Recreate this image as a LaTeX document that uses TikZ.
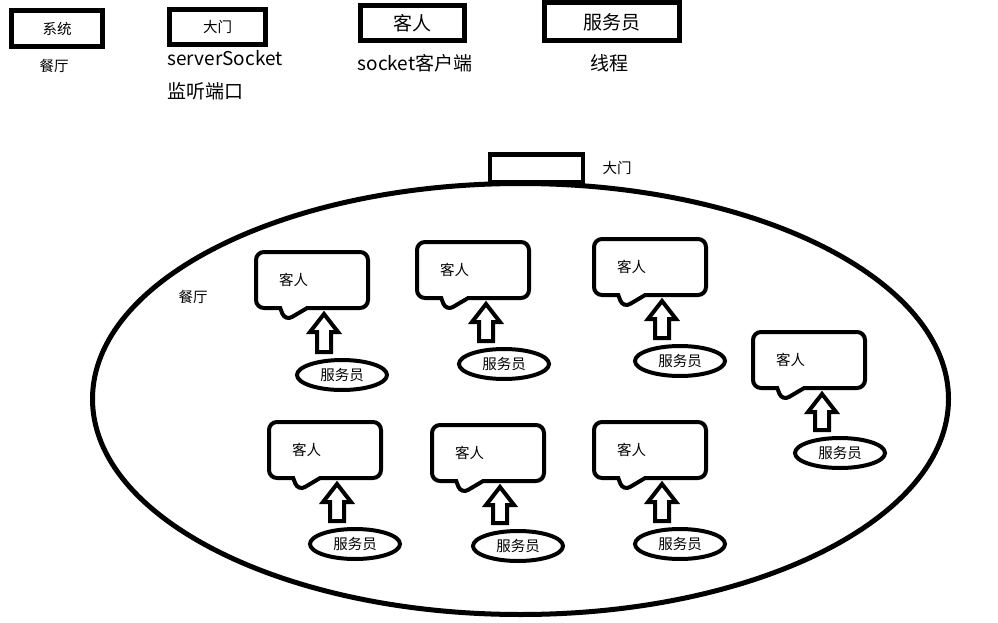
\documentclass[tikz,border=0pt]{standalone}
\usepackage{fontspec}
\setmainfont{Noto Sans CJK SC}
\usetikzlibrary{shapes.geometric,shapes.callouts,calc}

\tikzset{
  small/.style={font=\fontsize{14.5}{17}\selectfont},
  big/.style={font=\fontsize{19}{23}\selectfont},
  keybox/.style={draw, line width=5pt, inner sep=0pt},
  guest/.style={rectangle callout, draw, line width=4pt, rounded corners=8pt,
    minimum width=112pt, minimum height=56pt, text width=66pt, align=left,
    callout relative pointer={(-8.5pt,-13pt)}, callout pointer width=27pt, small},
  waiter/.style={ellipse, draw, line width=4pt, minimum width=90pt,
    minimum height=30pt, inner sep=0pt, small}
}

% hollow arrow from a waiter up to its guest
\newcommand\liftarrow[2]{%
  \draw[line width=4pt] let \p1=([xshift=-18pt]#1.north), \p2=(#2.south) in
    (\x1-7pt,\y1+6pt) -- (\x1-7pt,\y2-22pt) -- (\x1-14pt,\y2-22pt) -- (\x1,\y2-4pt)
    -- (\x1+14pt,\y2-22pt) -- (\x1+7pt,\y2-22pt) -- (\x1+7pt,\y1+6pt) -- cycle;}

\begin{document}
\begin{tikzpicture}[x=1pt,y=-1pt]
\useasboundingbox (0,0) rectangle (998,623);

% key
\node[keybox, small, minimum width=91pt, minimum height=36pt] (syskey) at (57,28.5) {系统};
\node[small] (sysnote) at (54,66) {餐厅};
\node[keybox, small, minimum width=96pt, minimum height=35pt] (gatekey) at (217.5,27) {大门};
\node[big, anchor=west] (gatenote) at (164,58) {serverSocket};
\node[big, anchor=west] (portnote) at (164,91) {监听端口};
\node[keybox, big, minimum width=104pt, minimum height=35pt] (guestkey) at (412.5,23) {客人};
\node[big] (guestnote) at (415,63) {socket客户端};
\node[keybox, big, minimum width=135pt, minimum height=38pt] (waiterkey) at (612,22) {服务员};
\node[big] (waiternote) at (609,63) {线程};

% restaurant
\node[ellipse, draw, line width=5pt, minimum width=856pt, minimum height=431pt] (hall) at (520.5,399) {};
\node[draw, line width=4.5pt, minimum width=93pt, minimum height=28pt, inner sep=0pt] (door) at (536.5,168.5) {};
\node[small] (doornote) at (617,168) {大门};
\node[small] (hallnote) at (193,297) {餐厅};

\node[guest] (k1) at (312,280) {客人};
\node[guest] (k2) at (473,270) {客人};
\node[guest] (k3) at (650,267) {客人};
\node[guest] (k4) at (809,360) {客人};
\node[guest] (k5) at (325,450) {客人};
\node[guest] (k6) at (488,453) {客人};
\node[guest] (k7) at (650,450) {客人};

\node[waiter] (s1) at (342,375) {服务员};
\node[waiter] (s2) at (504,364) {服务员};
\node[waiter] (s3) at (680,361) {服务员};
\node[waiter] (s4) at (840,453) {服务员};
\node[waiter] (s5) at (355,544) {服务员};
\node[waiter] (s6) at (518,546) {服务员};
\node[waiter] (s7) at (680,544) {服务员};

\liftarrow{s1}{k1}
\liftarrow{s2}{k2}
\liftarrow{s3}{k3}
\liftarrow{s4}{k4}
\liftarrow{s5}{k5}
\liftarrow{s6}{k6}
\liftarrow{s7}{k7}
\end{tikzpicture}
\end{document}
